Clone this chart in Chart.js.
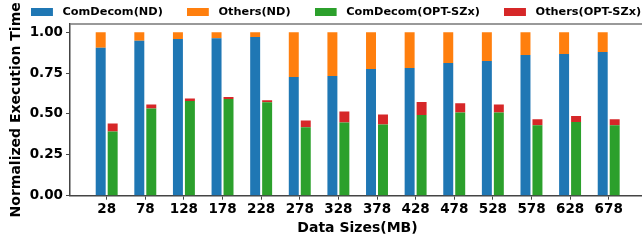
<!DOCTYPE html>
<html>
<head>
<meta charset="utf-8">
<script src="https://cdn.jsdelivr.net/npm/chart.js@4.4.1/dist/chart.umd.min.js"></script>
<style>
    html, body { margin: 0; padding: 0; background: #fff; overflow: hidden; }
    #wrap { position: relative; width: 690px; height: 241px; }
</style>
</head>
<body>
<div id="wrap"><canvas id="execChart"></canvas></div>
<script>
    // data sizes in MB (x positions)
    const sizes = [28, 78, 128, 178, 228, 278, 328, 378, 428, 478, 528, 578, 628, 678];
    const comDecomND = [0.904, 0.947, 0.959, 0.963, 0.971, 0.726, 0.732, 0.775, 0.781, 0.812, 0.824, 0.861, 0.867, 0.879];
    const othersND = [0.096, 0.053, 0.041, 0.037, 0.029, 0.274, 0.268, 0.225, 0.219, 0.188, 0.176, 0.139, 0.133, 0.121];
    const comDecomOPT = [0.393, 0.534, 0.579, 0.591, 0.571, 0.419, 0.448, 0.436, 0.493, 0.509, 0.509, 0.431, 0.450, 0.431];
    const othersOPT = [0.049, 0.024, 0.016, 0.012, 0.012, 0.041, 0.067, 0.061, 0.080, 0.057, 0.049, 0.037, 0.038, 0.037];
    const yTicks = [0, 0.25, 0.5, 0.75, 1.0];

    const FONT = "'DejaVu Sans', sans-serif";

    function toPoints(values) {
        return values.map(function(v, i) { return { x: sizes[i], y: v }; });
    }

    // legend swatch: 22x8 rect, a bit of room after it
    function swatch(color) {
        const c = document.createElement('canvas');
        c.width = 26;
        c.height = 8;
        const g = c.getContext('2d');
        g.fillStyle = color;
        g.fillRect(0, 0, 22, 8);
        return c;
    }

    const topFrame = {
        id: 'topFrame',
        afterDraw: function(chart) {
            const a = chart.chartArea;
            const ctx = chart.ctx;
            ctx.save();
            ctx.strokeStyle = '#777';
            ctx.lineWidth = 1.5;
            ctx.beginPath();
            ctx.moveTo(a.left, a.top);
            ctx.lineTo(a.right, a.top);
            ctx.stroke();
            ctx.restore();
        }
    };

    const ctx = document.getElementById('execChart').getContext('2d');
    new Chart(ctx, {
        type: 'bar',
        data: {
            datasets: [{
                label: 'ComDecom(ND)',
                data: toPoints(comDecomND),
                backgroundColor: '#1f77b4',
                stack: 'nd'
            }, {
                label: 'Others(ND)',
                data: toPoints(othersND),
                backgroundColor: '#ff7f0e',
                stack: 'nd'
            }, {
                label: 'ComDecom(OPT-SZx)',
                data: toPoints(comDecomOPT),
                backgroundColor: '#2ca02c',
                stack: 'opt'
            }, {
                label: 'Others(OPT-SZx)',
                data: toPoints(othersOPT),
                backgroundColor: '#d62728',
                stack: 'opt'
            }]
        },
        options: {
            responsive: true,
            maintainAspectRatio: false,
            animation: false,
            categoryPercentage: 0.62,
            barPercentage: 0.833,
            layout: {
                padding: { top: -18, right: 0, bottom: 0, left: -18 }
            },
            plugins: {
                tooltip: { enabled: false },
                legend: {
                    position: 'top',
                    maxHeight: 42,
                    labels: {
                        usePointStyle: true,
                        pointStyleWidth: 26,
                        boxHeight: 8,
                        padding: 24,
                        color: '#000',
                        font: { family: FONT, size: 11.3, weight: 'bold' },
                        generateLabels: function(chart) {
                            const items = Chart.defaults.plugins.legend.labels.generateLabels(chart);
                            items.forEach(function(it) {
                                it.pointStyle = swatch(chart.data.datasets[it.datasetIndex].backgroundColor);
                            });
                            return items;
                        }
                    }
                }
            },
            scales: {
                x: {
                    type: 'linear',
                    offset: false,
                    min: -19.5,
                    max: 725,
                    afterBuildTicks: function(axis) {
                        axis.ticks = sizes.map(function(v) { return { value: v }; });
                    },
                    afterFit: function(axis) { axis.height = 45.3; },
                    ticks: {
                        color: '#000',
                        padding: 2,
                        maxRotation: 0,
                        autoSkip: false,
                        font: { family: FONT, size: 13.5, weight: 'bold' },
                        callback: function(v) { return String(v); }
                    },
                    grid: { offset: false, drawOnChartArea: false, drawTicks: true, tickLength: 4, color: '#444' },
                    border: { display: true, color: '#444', width: 1.5 },
                    title: {
                        display: true,
                        text: 'Data Sizes(MB)',
                        color: '#000',
                        padding: { top: 0, bottom: 4 },
                        font: { family: FONT, size: 14, weight: 'bold' }
                    }
                },
                y: {
                    min: 0,
                    max: 1.05,
                    afterBuildTicks: function(axis) {
                        axis.ticks = yTicks.map(function(v) { return { value: v }; });
                    },
                    afterFit: function(axis) { axis.width = 88; },
                    ticks: {
                        color: '#000',
                        padding: 3,
                        font: { family: FONT, size: 13.5, weight: 'bold' },
                        callback: function(v) { return Number(v).toFixed(2); }
                    },
                    grid: { drawOnChartArea: false, drawTicks: true, tickLength: 4, color: '#444' },
                    border: { display: true, color: '#444', width: 1.5 },
                    title: {
                        display: true,
                        text: 'Normalized Execution Time',
                        color: '#000',
                        padding: { top: 26, bottom: 0 },
                        font: { family: FONT, size: 14, weight: 'bold' }
                    }
                },
                // empty strip on the right, so the plot runs just past the window edge
                yRight: {
                    position: 'right',
                    display: true,
                    min: 0,
                    max: 1.05,
                    afterFit: function(axis) { axis.width = 45; },
                    ticks: { display: false },
                    grid: { display: false },
                    border: { display: false }
                }
            }
        },
        plugins: [topFrame]
    });
</script>
</body>
</html>
